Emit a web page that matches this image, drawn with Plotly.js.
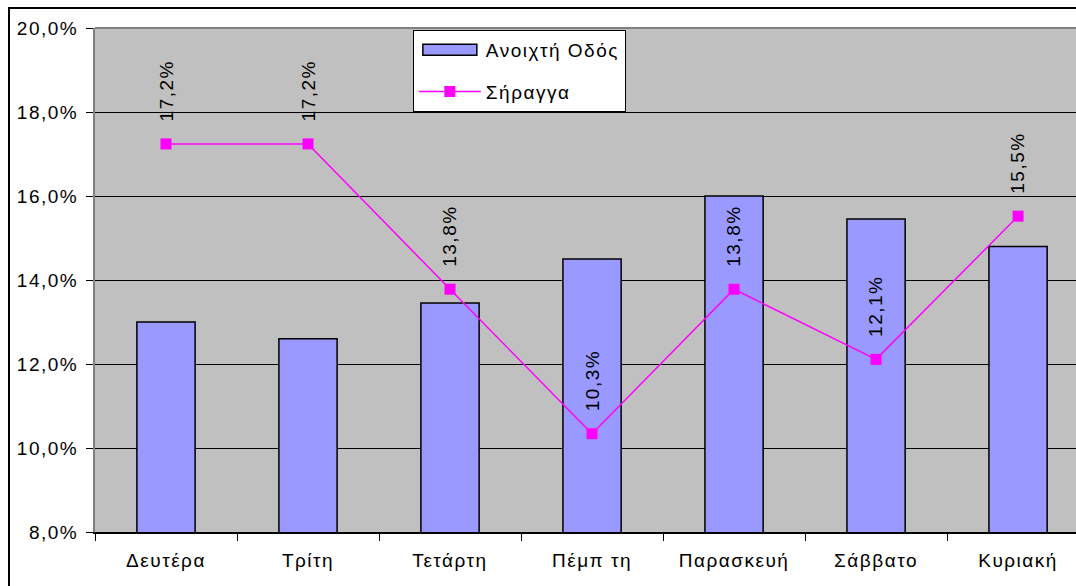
<!DOCTYPE html>
<html>
<head>
<meta charset="utf-8">
<script src="https://cdn.plot.ly/plotly-3.0.1.min.js"></script>
<style>
  html, body { margin: 0; padding: 0; background: #ffffff; overflow: hidden; }
  #chart { position: absolute; left: 0; top: 0; width: 1076px; height: 586px; }
  #frame { position: absolute; left: 8px; top: 7px; width: 1200px; height: 700px; border: 2px solid #000; pointer-events: none; }
  svg text { letter-spacing: 1.5px; }
</style>
</head>
<body>
<div id="chart"></div>
<div id="frame"></div>
<script>
// Data (percent)
var days = ['Δευτέρα', 'Τρίτη', 'Τετάρτη', 'Πέμπ τη', 'Παρασκευή', 'Σάββατο', 'Κυριακή'];
var openRoad = [13.0, 12.6, 13.45, 14.5, 16.0, 15.45, 14.8];
var tunnel = [17.24, 17.24, 13.78, 10.34, 13.78, 12.11, 15.52];
var seriesNames = ['Ανοιχτή Οδός', 'Σήραγγα'];

var fontFam = '"Liberation Sans", Arial, sans-serif';
var fs = 19;

var traces = [
  {
    type: 'bar', x: days, y: openRoad, name: seriesNames[0],
    width: 0.41,
    marker: { color: '#9999ff', line: { color: '#000000', width: 1.5 } },
    legendgroup: 'a', hoverinfo: 'none'
  },
  {
    type: 'scatter', mode: 'lines+markers', x: days, y: tunnel, name: seriesNames[1],
    line: { color: '#ff00ff', width: 1.5 },
    marker: { symbol: 'square', size: 11, color: '#ff00ff' },
    legendgroup: 'b', hoverinfo: 'none'
  }
];

var annotations = tunnel.map(function (v, i) {
  return {
    x: days[i], y: v, xref: 'x', yref: 'y',
    text: v.toFixed(1).replace('.', ',') + '%',
    textangle: -90, showarrow: false,
    xanchor: 'center', yanchor: 'bottom', yshift: 20,
    font: { family: fontFam, size: fs, color: '#000' }
  };
});

var layout = {
  width: 1076, height: 586,
  margin: { l: 95, r: 0, t: 28, b: 54, pad: 0 },
  paper_bgcolor: 'rgba(0,0,0,0)',
  plot_bgcolor: '#c0c0c0',
  separators: ',.',
  font: { family: fontFam, size: fs, color: '#000' },
  xaxis: {
    type: 'category',
    range: [-0.5, 6.408],
    tickson: 'boundaries',
    ticks: 'outside', ticklen: 7, tickcolor: '#000', tickwidth: 1,
    showgrid: false,
    showline: true, linecolor: '#000', linewidth: 1.5,
    tickfont: { family: fontFam, size: fs, color: '#000' },
    ticklabelstandoff: 11
  },
  yaxis: {
    range: [8, 20], dtick: 2, tick0: 8,
    tickformat: '.1f', ticksuffix: '%',
    ticks: 'outside', ticklen: 7, tickcolor: '#000', tickwidth: 1,
    showgrid: true, gridcolor: '#000', gridwidth: 1,
    showline: true, linecolor: '#808080', linewidth: 2,
    zeroline: false,
    tickfont: { family: fontFam, size: fs, color: '#000' },
    ticklabelstandoff: 4
  },
  showlegend: true,
  legend: {
    x: 0.324, y: 0.996, xanchor: 'left', yanchor: 'top',
    bgcolor: '#ffffff', bordercolor: '#000', borderwidth: 1,
    font: { family: fontFam, size: fs, color: '#000' },
    tracegroupgap: 14,
    itemwidth: 62
  },
  shapes: [
    { type: 'line', xref: 'paper', yref: 'paper', x0: 0, x1: 1, y0: 1, y1: 1,
      line: { color: '#808080', width: 2 }, layer: 'above' }
  ],
  annotations: annotations
};

function widenSwatch() {
  var gd = document.getElementById('chart');
  var paths = gd.querySelectorAll('.legend .legendpoints path');
  paths.forEach(function (el) {
    var d = (el.getAttribute('d') || '').replace(/\s/g, '');
    if (d === 'M6,6H-6V-6H6Z') {
      el.setAttribute('d', 'M27,5.5H-27V-5.5H27Z');
      el.style.strokeWidth = '1.5px';
    }
  });
}

Plotly.newPlot('chart', traces, layout, { staticPlot: true, displayModeBar: false }).then(widenSwatch);
widenSwatch();
setTimeout(widenSwatch, 50);
</script>
</body>
</html>
